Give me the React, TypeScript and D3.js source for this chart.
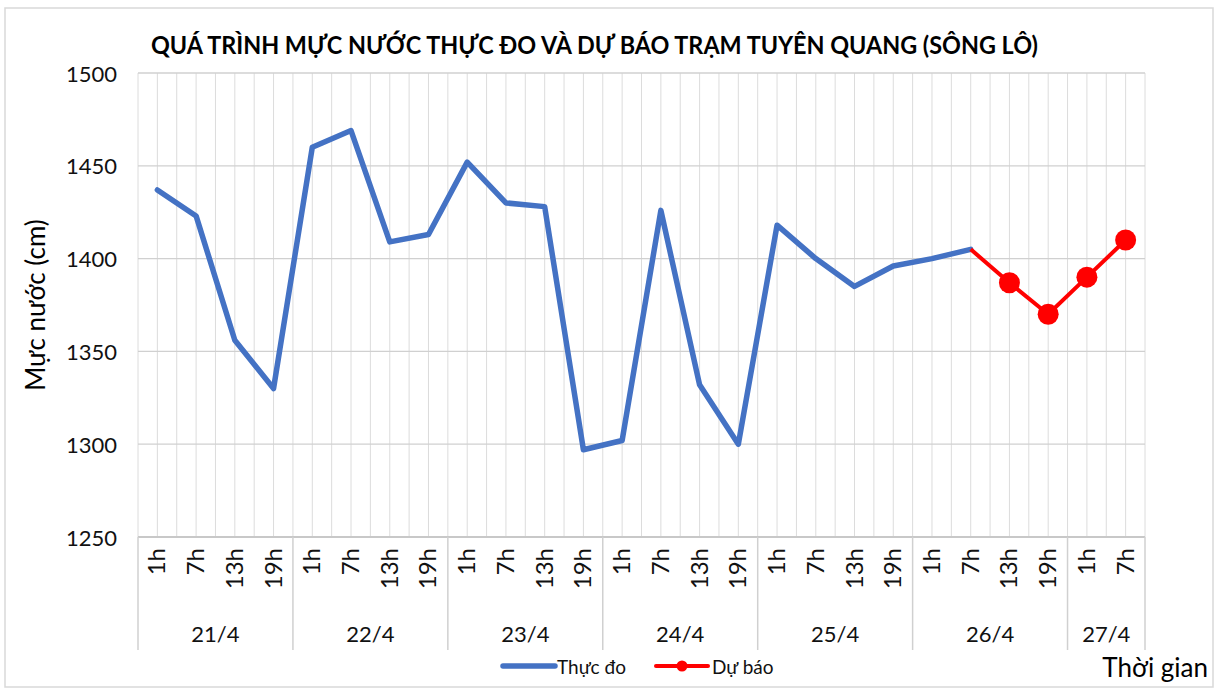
import React, { useEffect, useRef } from 'react';
import * as d3 from 'd3';

const hourLabels = ['1h', '7h', '13h', '19h', '1h', '7h', '13h', '19h', '1h', '7h', '13h', '19h', '1h', '7h', '13h', '19h', '1h', '7h', '13h', '19h', '1h', '7h', '13h', '19h', '1h', '7h'];
const dayLabels = ['21/4', '22/4', '23/4', '24/4', '25/4', '26/4', '27/4'];
const dayCounts = [4, 4, 4, 4, 4, 4, 2];
const observed = [1437, 1423, 1356, 1330, 1460, 1469, 1409, 1413, 1452, 1430, 1428, 1297, 1302, 1426, 1332, 1300, 1418, 1400, 1385, 1396, 1400, 1405];
const forecastStart = 21;
const forecast = [1405, 1387, 1370, 1390, 1410];
const yTicks = [1250, 1300, 1350, 1400, 1450, 1500];

const FONT = 'Lato, "Open Sans", sans-serif';

function App() {
    const ref = useRef<SVGSVGElement>(null);
    const width = 1219;
    const height = 691;
    const left = 138;
    const right = 1145;
    const top = 73;
    const bottom = 537;

    useEffect(() => {
        const svg = d3.select(ref.current);
        svg.selectAll('*').remove();

        const x = d3.scaleBand<number>()
            .domain(d3.range(hourLabels.length))
            .range([left, right])
            .padding(0);
        const y = d3.scaleLinear().domain([1250, 1500]).range([bottom, top]);
        const bw = x.bandwidth();
        const cx = (i: number) => (x(i) as number) + bw / 2;

        // outer frame
        svg.append('rect')
            .attr('x', 5).attr('y', 8)
            .attr('width', 1208).attr('height', 679)
            .attr('fill', 'white')
            .attr('stroke', '#d9d9d9')
            .attr('stroke-width', 1.5);

        // vertical gridlines every half category
        const g = svg.append('g');
        for (let k = 0; k <= hourLabels.length * 2; k++) {
            const gx = left + (k * bw) / 2;
            g.append('line')
                .attr('x1', gx).attr('x2', gx)
                .attr('y1', top).attr('y2', bottom)
                .attr('stroke', '#dcdcdc')
                .attr('stroke-width', 1);
        }
        // horizontal gridlines
        yTicks.forEach((t) => {
            g.append('line')
                .attr('x1', left).attr('x2', right)
                .attr('y1', y(t)).attr('y2', y(t))
                .attr('stroke', t === 1250 ? '#c8c8c8' : '#d0d0d0')
                .attr('stroke-width', t === 1250 ? 2 : 1.3);
        });

        // y tick labels
        yTicks.forEach((t) => {
            svg.append('text')
                .attr('x', 117)
                .attr('y', y(t))
                .attr('text-anchor', 'end')
                .attr('dominant-baseline', 'central')
                .style('font-family', FONT)
                .style('font-size', '22px')
                .style('fill', '#111')
                .text(t);
        });

        // y axis title
        svg.append('text')
            .attr('transform', `translate(45,${(top + bottom) / 2}) rotate(-90)`)
            .attr('text-anchor', 'middle')
            .style('font-family', FONT)
            .style('font-size', '26px')
            .style('fill', '#000')
            .text('Mực nước (cm)');

        // hour labels (rotated)
        hourLabels.forEach((h, i) => {
            svg.append('text')
                .attr('transform', `translate(${cx(i) + 8},548) rotate(-90)`)
                .attr('text-anchor', 'end')
                .style('font-family', FONT)
                .style('font-size', '24px')
                .style('fill', '#111')
                .text(h);
        });

        // day group separators and labels
        let start = 0;
        const bounds = [0];
        dayCounts.forEach((c, d) => {
            const x0 = x(start) as number;
            const x1 = (x(start + c - 1) as number) + bw;
            svg.append('text')
                .attr('x', (x0 + x1) / 2)
                .attr('y', 633)
                .attr('text-anchor', 'middle')
                .attr('dominant-baseline', 'central')
                .style('font-family', FONT)
                .style('font-size', '22px')
                .style('fill', '#111')
                .text(dayLabels[d]);
            start += c;
            bounds.push(start);
        });
        bounds.forEach((b) => {
            const bx = b < hourLabels.length ? (x(b) as number) : right;
            svg.append('line')
                .attr('x1', bx).attr('x2', bx)
                .attr('y1', bottom).attr('y2', 650)
                .attr('stroke', '#d0d0d0')
                .attr('stroke-width', 1.5);
        });

        // observed line
        const line = d3.line<number>()
            .x((_, i) => cx(i))
            .y((v) => y(v));
        svg.append('path')
            .attr('d', line(observed))
            .attr('fill', 'none')
            .attr('stroke', '#4472C4')
            .attr('stroke-width', 5.5)
            .attr('stroke-linejoin', 'round')
            .attr('stroke-linecap', 'round');

        // forecast line
        const fline = d3.line<number>()
            .x((_, i) => cx(forecastStart + i))
            .y((v) => y(v));
        svg.append('path')
            .attr('d', fline(forecast))
            .attr('fill', 'none')
            .attr('stroke', '#FF0000')
            .attr('stroke-width', 4)
            .attr('stroke-linejoin', 'round');
        forecast.forEach((v, i) => {
            if (i === 0) return;
            svg.append('circle')
                .attr('cx', cx(forecastStart + i))
                .attr('cy', y(v))
                .attr('r', 10.5)
                .attr('fill', '#FF0000');
        });

        // title
        svg.append('text')
            .attr('x', 594.5)
            .attr('y', 54)
            .attr('text-anchor', 'middle')
            .attr('textLength', 887)
            .attr('lengthAdjust', 'spacingAndGlyphs')
            .style('font-family', FONT)
            .style('font-size', '24px')
            .style('font-weight', 'bold')
            .style('fill', '#000')
            .text('QUÁ TRÌNH MỰC NƯỚC THỰC ĐO VÀ DỰ BÁO TRẠM TUYÊN QUANG (SÔNG LÔ)');

        // legend
        const ly = 666;
        svg.append('line')
            .attr('x1', 503).attr('x2', 555)
            .attr('y1', ly).attr('y2', ly)
            .attr('stroke', '#4472C4')
            .attr('stroke-width', 5.5)
            .attr('stroke-linecap', 'round');
        svg.append('text')
            .attr('x', 557).attr('y', ly)
            .attr('dominant-baseline', 'central')
            .style('font-family', FONT)
            .style('font-size', '19px')
            .style('fill', '#111')
            .text('Thực đo');
        svg.append('line')
            .attr('x1', 656).attr('x2', 708)
            .attr('y1', ly).attr('y2', ly)
            .attr('stroke', '#FF0000')
            .attr('stroke-width', 4)
            .attr('stroke-linecap', 'round');
        svg.append('circle')
            .attr('cx', 682).attr('cy', ly).attr('r', 5.5)
            .attr('fill', '#FF0000');
        svg.append('text')
            .attr('x', 712).attr('y', ly)
            .attr('dominant-baseline', 'central')
            .style('font-family', FONT)
            .style('font-size', '19px')
            .style('fill', '#111')
            .text('Dự báo');

        // x axis title
        svg.append('text')
            .attr('x', 1208).attr('y', 667)
            .attr('text-anchor', 'end')
            .attr('dominant-baseline', 'central')
            .style('font-family', FONT)
            .style('font-size', '26px')
            .style('fill', '#000')
            .text('Thời gian');
    }, []);

    return (
        <svg
            ref={ref}
            width={width}
            height={height}
            style={{ position: 'absolute', left: 0, top: 0, display: 'block', background: 'white' }}
        ></svg>
    );
}

export default App;
